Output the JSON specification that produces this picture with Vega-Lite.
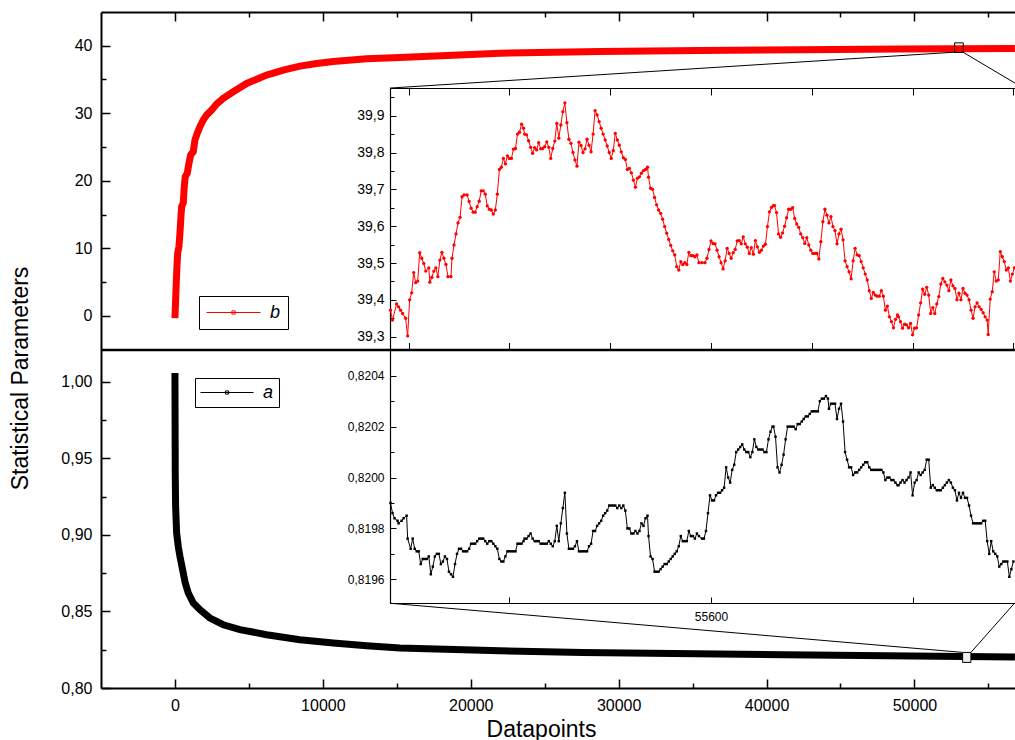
{
"$schema": "https://vega.github.io/schema/vega-lite/v6.json",
"width": 914, "height": 676,
"autosize": {"type": "none"},
"padding": {"left": 101, "top": 12, "right": 0, "bottom": 52},
"config": {
  "view": {"stroke": null},
  "font": "Liberation Sans",
  "axis": {"grid": false, "domainColor": "black", "tickColor": "black", "labelColor": "black", "titleColor": "black", "labelFont": "Liberation Sans", "titleFont": "Liberation Sans", "titleFontWeight": "normal", "labelFlush": false, "labelOverlap": false},
  "legend": {"labelFont": "Liberation Sans", "labelColor": "black"}
},
"datasets": {
  "mainB": [{"n":0,"b":-0.34},{"n":47,"b":2.37},{"n":88,"b":4.84},{"n":135,"b":7.29},{"n":183,"b":9.27},{"n":270,"b":10.25},{"n":338,"b":12.23},{"n":406,"b":14.69},{"n":453,"b":16.17},{"n":561,"b":16.67},{"n":629,"b":19.13},{"n":696,"b":20.61},{"n":832,"b":21.11},{"n":947,"b":22.59},{"n":1062,"b":23.82},{"n":1237,"b":24.3},{"n":1352,"b":26.04},{"n":1508,"b":27.03},{"n":1690,"b":28.0},{"n":1913,"b":28.99},{"n":2143,"b":29.73},{"n":2481,"b":30.47},{"n":2819,"b":31.36},{"n":3266,"b":32.2},{"n":3942,"b":33.18},{"n":4848,"b":34.42},{"n":6200,"b":35.65},{"n":7323,"b":36.39},{"n":8452,"b":36.98},{"n":9581,"b":37.38},{"n":10703,"b":37.68},{"n":12961,"b":38.06},{"n":15213,"b":38.27},{"n":21974,"b":38.9},{"n":28736,"b":39.15},{"n":35497,"b":39.3},{"n":42258,"b":39.42},{"n":49020,"b":39.52},{"n":56795,"b":39.58}],
  "mainA": [{"n":0,"a":1.0056},{"n":10,"a":0.973},{"n":20,"a":0.9403},{"n":45,"a":0.9185},{"n":113,"a":0.9012},{"n":225,"a":0.8924},{"n":338,"a":0.8859},{"n":518,"a":0.8772},{"n":699,"a":0.8685},{"n":902,"a":0.862},{"n":1240,"a":0.8555},{"n":1690,"a":0.8511},{"n":2366,"a":0.8457},{"n":3268,"a":0.8413},{"n":4395,"a":0.8381},{"n":6198,"a":0.8348},{"n":8452,"a":0.8315},{"n":10706,"a":0.8294},{"n":12960,"a":0.8276},{"n":15213,"a":0.8261},{"n":21974,"a":0.8243},{"n":27553,"a":0.8232},{"n":41244,"a":0.8217},{"n":53279,"a":0.8206},{"n":56795,"a":0.8202}],
  "boxB": [{"n":52718,"n2":53300,"b":40.43,"b2":39.0}],
  "connB": [{"n":14537,"b":33.73,"n2":52738,"b2":39.05},{"n":53279,"b":39.05,"n2":56795,"b2":34.47}],
  "boxA": [{"n":53259,"n2":53820,"a":0.82324,"a2":0.81671}],
  "connA": [{"n":14537,"a":0.85535,"n2":53259,"a2":0.82324},{"n":53820,"a":0.82324,"n2":56795,"a2":0.85568}],
  "insB": [{"n":55282,"b":39.372},{"n":55284,"b":39.345},{"n":55288,"b":39.389},{"n":55290,"b":39.381},{"n":55292,"b":39.372},{"n":55294,"b":39.363},{"n":55297,"b":39.35},{"n":55299,"b":39.302},{"n":55301,"b":39.4},{"n":55303,"b":39.419},{"n":55305,"b":39.474},{"n":55307,"b":39.447},{"n":55309,"b":39.451},{"n":55311,"b":39.528},{"n":55313,"b":39.513},{"n":55315,"b":39.499},{"n":55317,"b":39.478},{"n":55320,"b":39.487},{"n":55321,"b":39.448},{"n":55323,"b":39.461},{"n":55325,"b":39.478},{"n":55327,"b":39.487},{"n":55329,"b":39.463},{"n":55331,"b":39.508},{"n":55333,"b":39.529},{"n":55335,"b":39.513},{"n":55337,"b":39.496},{"n":55339,"b":39.463},{"n":55342,"b":39.463},{"n":55343,"b":39.513},{"n":55345,"b":39.549},{"n":55347,"b":39.579},{"n":55349,"b":39.609},{"n":55351,"b":39.624},{"n":55353,"b":39.68},{"n":55355,"b":39.685},{"n":55358,"b":39.685},{"n":55360,"b":39.667},{"n":55362,"b":39.649},{"n":55364,"b":39.638},{"n":55366,"b":39.638},{"n":55368,"b":39.653},{"n":55370,"b":39.668},{"n":55372,"b":39.696},{"n":55374,"b":39.696},{"n":55376,"b":39.687},{"n":55378,"b":39.655},{"n":55380,"b":39.646},{"n":55382,"b":39.644},{"n":55384,"b":39.633},{"n":55386,"b":39.644},{"n":55388,"b":39.687},{"n":55390,"b":39.754},{"n":55392,"b":39.76},{"n":55394,"b":39.784},{"n":55396,"b":39.769},{"n":55398,"b":39.791},{"n":55400,"b":39.784},{"n":55402,"b":39.784},{"n":55404,"b":39.809},{"n":55406,"b":39.811},{"n":55408,"b":39.85},{"n":55410,"b":39.855},{"n":55412,"b":39.877},{"n":55414,"b":39.866},{"n":55415,"b":39.85},{"n":55417,"b":39.848},{"n":55419,"b":39.832},{"n":55421,"b":39.814},{"n":55423,"b":39.798},{"n":55425,"b":39.813},{"n":55427,"b":39.807},{"n":55429,"b":39.827},{"n":55431,"b":39.81},{"n":55433,"b":39.811},{"n":55435,"b":39.816},{"n":55437,"b":39.829},{"n":55439,"b":39.814},{"n":55441,"b":39.784},{"n":55443,"b":39.811},{"n":55445,"b":39.831},{"n":55447,"b":39.879},{"n":55449,"b":39.839},{"n":55451,"b":39.875},{"n":55453,"b":39.911},{"n":55455,"b":39.935},{"n":55457,"b":39.881},{"n":55459,"b":39.836},{"n":55461,"b":39.825},{"n":55463,"b":39.8},{"n":55465,"b":39.78},{"n":55467,"b":39.763},{"n":55469,"b":39.828},{"n":55471,"b":39.819},{"n":55473,"b":39.8},{"n":55475,"b":39.81},{"n":55477,"b":39.836},{"n":55479,"b":39.82},{"n":55481,"b":39.802},{"n":55483,"b":39.85},{"n":55485,"b":39.914},{"n":55487,"b":39.902},{"n":55489,"b":39.884},{"n":55491,"b":39.866},{"n":55493,"b":39.85},{"n":55495,"b":39.834},{"n":55497,"b":39.818},{"n":55499,"b":39.8},{"n":55501,"b":39.784},{"n":55503,"b":39.805},{"n":55505,"b":39.852},{"n":55507,"b":39.834},{"n":55509,"b":39.82},{"n":55511,"b":39.802},{"n":55513,"b":39.786},{"n":55515,"b":39.781},{"n":55517,"b":39.754},{"n":55519,"b":39.757},{"n":55521,"b":39.745},{"n":55523,"b":39.725},{"n":55525,"b":39.706},{"n":55527,"b":39.73},{"n":55529,"b":39.734},{"n":55531,"b":39.744},{"n":55533,"b":39.751},{"n":55535,"b":39.754},{"n":55537,"b":39.76},{"n":55538,"b":39.733},{"n":55540,"b":39.703},{"n":55542,"b":39.7},{"n":55544,"b":39.678},{"n":55546,"b":39.658},{"n":55548,"b":39.644},{"n":55550,"b":39.635},{"n":55552,"b":39.619},{"n":55554,"b":39.599},{"n":55556,"b":39.581},{"n":55558,"b":39.564},{"n":55560,"b":39.548},{"n":55562,"b":39.533},{"n":55564,"b":39.522},{"n":55566,"b":39.49},{"n":55568,"b":39.481},{"n":55570,"b":39.504},{"n":55572,"b":39.496},{"n":55574,"b":39.501},{"n":55576,"b":39.496},{"n":55578,"b":39.529},{"n":55580,"b":39.52},{"n":55582,"b":39.52},{"n":55584,"b":39.517},{"n":55586,"b":39.522},{"n":55588,"b":39.501},{"n":55591,"b":39.501},{"n":55594,"b":39.501},{"n":55596,"b":39.513},{"n":55598,"b":39.537},{"n":55600,"b":39.56},{"n":55602,"b":39.553},{"n":55604,"b":39.552},{"n":55606,"b":39.535},{"n":55608,"b":39.517},{"n":55610,"b":39.501},{"n":55612,"b":39.484},{"n":55614,"b":39.506},{"n":55616,"b":39.54},{"n":55618,"b":39.526},{"n":55620,"b":39.513},{"n":55622,"b":39.528},{"n":55624,"b":39.537},{"n":55626,"b":39.56},{"n":55628,"b":39.561},{"n":55630,"b":39.552},{"n":55632,"b":39.571},{"n":55634,"b":39.552},{"n":55636,"b":39.543},{"n":55638,"b":39.526},{"n":55640,"b":39.542},{"n":55642,"b":39.524},{"n":55644,"b":39.561},{"n":55646,"b":39.544},{"n":55648,"b":39.529},{"n":55650,"b":39.535},{"n":55652,"b":39.546},{"n":55654,"b":39.551},{"n":55656,"b":39.599},{"n":55658,"b":39.639},{"n":55660,"b":39.651},{"n":55662,"b":39.656},{"n":55663,"b":39.656},{"n":55665,"b":39.637},{"n":55667,"b":39.579},{"n":55669,"b":39.57},{"n":55671,"b":39.582},{"n":55673,"b":39.6},{"n":55675,"b":39.623},{"n":55677,"b":39.646},{"n":55679,"b":39.646},{"n":55681,"b":39.65},{"n":55683,"b":39.621},{"n":55685,"b":39.606},{"n":55687,"b":39.597},{"n":55689,"b":39.579},{"n":55691,"b":39.569},{"n":55693,"b":39.553},{"n":55695,"b":39.569},{"n":55697,"b":39.549},{"n":55699,"b":39.535},{"n":55701,"b":39.526},{"n":55703,"b":39.526},{"n":55705,"b":39.526},{"n":55707,"b":39.511},{"n":55709,"b":39.558},{"n":55711,"b":39.612},{"n":55713,"b":39.646},{"n":55715,"b":39.63},{"n":55717,"b":39.609},{"n":55719,"b":39.626},{"n":55721,"b":39.599},{"n":55723,"b":39.588},{"n":55725,"b":39.552},{"n":55727,"b":39.579},{"n":55729,"b":39.592},{"n":55731,"b":39.563},{"n":55733,"b":39.506},{"n":55735,"b":39.49},{"n":55737,"b":39.476},{"n":55739,"b":39.457},{"n":55741,"b":39.506},{"n":55743,"b":39.54},{"n":55745,"b":39.522},{"n":55747,"b":39.52},{"n":55749,"b":39.504},{"n":55751,"b":39.487},{"n":55753,"b":39.47},{"n":55755,"b":39.454},{"n":55757,"b":39.425},{"n":55759,"b":39.404},{"n":55761,"b":39.42},{"n":55763,"b":39.413},{"n":55765,"b":39.41},{"n":55767,"b":39.41},{"n":55769,"b":39.425},{"n":55771,"b":39.41},{"n":55773,"b":39.372},{"n":55775,"b":39.383},{"n":55777,"b":39.354},{"n":55779,"b":39.341},{"n":55781,"b":39.324},{"n":55783,"b":39.347},{"n":55785,"b":39.359},{"n":55786,"b":39.354},{"n":55788,"b":39.341},{"n":55790,"b":39.323},{"n":55792,"b":39.334},{"n":55794,"b":39.332},{"n":55796,"b":39.324},{"n":55798,"b":39.336},{"n":55800,"b":39.305},{"n":55802,"b":39.323},{"n":55804,"b":39.324},{"n":55806,"b":39.359},{"n":55808,"b":39.392},{"n":55810,"b":39.429},{"n":55812,"b":39.415},{"n":55814,"b":39.434},{"n":55816,"b":39.413},{"n":55818,"b":39.363},{"n":55820,"b":39.379},{"n":55822,"b":39.363},{"n":55824,"b":39.389},{"n":55826,"b":39.409},{"n":55828,"b":39.443},{"n":55830,"b":39.458},{"n":55832,"b":39.449},{"n":55834,"b":39.44},{"n":55836,"b":39.425},{"n":55838,"b":39.454},{"n":55840,"b":39.438},{"n":55842,"b":39.431},{"n":55844,"b":39.4},{"n":55846,"b":39.418},{"n":55848,"b":39.4},{"n":55850,"b":39.431},{"n":55852,"b":39.418},{"n":55854,"b":39.413},{"n":55856,"b":39.4},{"n":55858,"b":39.372},{"n":55860,"b":39.35},{"n":55862,"b":39.381},{"n":55864,"b":39.392},{"n":55866,"b":39.381},{"n":55868,"b":39.374},{"n":55870,"b":39.365},{"n":55872,"b":39.354},{"n":55874,"b":39.345},{"n":55875,"b":39.306},{"n":55877,"b":39.402},{"n":55879,"b":39.422},{"n":55881,"b":39.476},{"n":55883,"b":39.451},{"n":55885,"b":39.454},{"n":55887,"b":39.531},{"n":55889,"b":39.517},{"n":55891,"b":39.504},{"n":55893,"b":39.481},{"n":55895,"b":39.487},{"n":55897,"b":39.451},{"n":55899,"b":39.47},{"n":55901,"b":39.487}],
  "insA": [{"n":55282,"a":0.8199},{"n":55284,"a":0.81986},{"n":55286,"a":0.81984},{"n":55289,"a":0.81983},{"n":55290,"a":0.81982},{"n":55293,"a":0.81983},{"n":55295,"a":0.81984},{"n":55298,"a":0.81985},{"n":55299,"a":0.81976},{"n":55302,"a":0.81972},{"n":55304,"a":0.81976},{"n":55306,"a":0.81972},{"n":55308,"a":0.81971},{"n":55310,"a":0.81971},{"n":55312,"a":0.81966},{"n":55314,"a":0.81968},{"n":55316,"a":0.81968},{"n":55318,"a":0.81968},{"n":55320,"a":0.81969},{"n":55322,"a":0.81962},{"n":55324,"a":0.81965},{"n":55326,"a":0.81969},{"n":55328,"a":0.8197},{"n":55330,"a":0.8197},{"n":55332,"a":0.81966},{"n":55334,"a":0.81967},{"n":55336,"a":0.81969},{"n":55338,"a":0.81968},{"n":55340,"a":0.81963},{"n":55342,"a":0.81962},{"n":55344,"a":0.81961},{"n":55346,"a":0.81966},{"n":55348,"a":0.8197},{"n":55350,"a":0.81972},{"n":55352,"a":0.81972},{"n":55354,"a":0.81971},{"n":55356,"a":0.81971},{"n":55358,"a":0.81971},{"n":55360,"a":0.81972},{"n":55362,"a":0.81974},{"n":55364,"a":0.81974},{"n":55366,"a":0.81974},{"n":55368,"a":0.81975},{"n":55370,"a":0.81976},{"n":55372,"a":0.81976},{"n":55374,"a":0.81976},{"n":55376,"a":0.81975},{"n":55378,"a":0.81974},{"n":55380,"a":0.81975},{"n":55382,"a":0.81975},{"n":55384,"a":0.81974},{"n":55386,"a":0.81973},{"n":55388,"a":0.81972},{"n":55390,"a":0.81968},{"n":55392,"a":0.81967},{"n":55394,"a":0.81967},{"n":55396,"a":0.81969},{"n":55398,"a":0.81971},{"n":55400,"a":0.81971},{"n":55402,"a":0.81971},{"n":55404,"a":0.81971},{"n":55406,"a":0.81971},{"n":55408,"a":0.81974},{"n":55410,"a":0.81974},{"n":55412,"a":0.81974},{"n":55414,"a":0.81975},{"n":55415,"a":0.81976},{"n":55417,"a":0.81976},{"n":55419,"a":0.81977},{"n":55421,"a":0.81978},{"n":55423,"a":0.81976},{"n":55425,"a":0.81975},{"n":55427,"a":0.81975},{"n":55429,"a":0.81975},{"n":55431,"a":0.81974},{"n":55433,"a":0.81974},{"n":55435,"a":0.81974},{"n":55437,"a":0.81974},{"n":55439,"a":0.81975},{"n":55441,"a":0.81974},{"n":55443,"a":0.81973},{"n":55445,"a":0.81975},{"n":55447,"a":0.81981},{"n":55449,"a":0.81975},{"n":55451,"a":0.81982},{"n":55453,"a":0.81988},{"n":55455,"a":0.81994},{"n":55457,"a":0.81978},{"n":55459,"a":0.81972},{"n":55461,"a":0.81972},{"n":55463,"a":0.81972},{"n":55465,"a":0.81973},{"n":55467,"a":0.81975},{"n":55469,"a":0.81971},{"n":55471,"a":0.81971},{"n":55473,"a":0.81971},{"n":55475,"a":0.81971},{"n":55477,"a":0.81971},{"n":55479,"a":0.81973},{"n":55481,"a":0.81974},{"n":55483,"a":0.81979},{"n":55485,"a":0.81979},{"n":55487,"a":0.81981},{"n":55489,"a":0.81982},{"n":55491,"a":0.81983},{"n":55493,"a":0.81985},{"n":55495,"a":0.81986},{"n":55497,"a":0.81987},{"n":55499,"a":0.81989},{"n":55501,"a":0.81989},{"n":55503,"a":0.81989},{"n":55505,"a":0.81989},{"n":55507,"a":0.81988},{"n":55509,"a":0.81989},{"n":55511,"a":0.81988},{"n":55513,"a":0.81989},{"n":55515,"a":0.81987},{"n":55517,"a":0.8198},{"n":55519,"a":0.8198},{"n":55521,"a":0.81978},{"n":55523,"a":0.81978},{"n":55525,"a":0.81979},{"n":55527,"a":0.81978},{"n":55529,"a":0.81979},{"n":55531,"a":0.81982},{"n":55533,"a":0.81981},{"n":55535,"a":0.81984},{"n":55537,"a":0.81985},{"n":55538,"a":0.81977},{"n":55540,"a":0.81969},{"n":55542,"a":0.81968},{"n":55544,"a":0.81963},{"n":55546,"a":0.81963},{"n":55548,"a":0.81963},{"n":55550,"a":0.81964},{"n":55552,"a":0.81965},{"n":55554,"a":0.81966},{"n":55556,"a":0.81966},{"n":55558,"a":0.81967},{"n":55560,"a":0.81968},{"n":55562,"a":0.81969},{"n":55564,"a":0.8197},{"n":55566,"a":0.81971},{"n":55568,"a":0.81973},{"n":55570,"a":0.81977},{"n":55572,"a":0.81975},{"n":55574,"a":0.81975},{"n":55576,"a":0.81975},{"n":55578,"a":0.81979},{"n":55580,"a":0.81977},{"n":55582,"a":0.81977},{"n":55584,"a":0.81976},{"n":55586,"a":0.81978},{"n":55588,"a":0.81977},{"n":55591,"a":0.81976},{"n":55593,"a":0.81976},{"n":55595,"a":0.81979},{"n":55597,"a":0.81986},{"n":55599,"a":0.81993},{"n":55601,"a":0.81991},{"n":55603,"a":0.81991},{"n":55605,"a":0.81993},{"n":55607,"a":0.81994},{"n":55609,"a":0.81994},{"n":55611,"a":0.81995},{"n":55613,"a":0.81996},{"n":55615,"a":0.82004},{"n":55617,"a":0.82},{"n":55619,"a":0.81998},{"n":55621,"a":0.82003},{"n":55623,"a":0.82005},{"n":55625,"a":0.8201},{"n":55627,"a":0.82011},{"n":55629,"a":0.82012},{"n":55631,"a":0.82013},{"n":55633,"a":0.82011},{"n":55635,"a":0.8201},{"n":55637,"a":0.8201},{"n":55639,"a":0.82008},{"n":55641,"a":0.8201},{"n":55643,"a":0.82015},{"n":55645,"a":0.82012},{"n":55647,"a":0.82011},{"n":55649,"a":0.82011},{"n":55651,"a":0.82011},{"n":55653,"a":0.8201},{"n":55655,"a":0.8201},{"n":55657,"a":0.82015},{"n":55659,"a":0.82018},{"n":55661,"a":0.8202},{"n":55662,"a":0.8202},{"n":55664,"a":0.82016},{"n":55666,"a":0.82004},{"n":55668,"a":0.82002},{"n":55670,"a":0.82005},{"n":55672,"a":0.82009},{"n":55674,"a":0.82015},{"n":55676,"a":0.8202},{"n":55678,"a":0.8202},{"n":55680,"a":0.8202},{"n":55682,"a":0.8202},{"n":55684,"a":0.82019},{"n":55686,"a":0.82021},{"n":55688,"a":0.82021},{"n":55690,"a":0.82022},{"n":55692,"a":0.82023},{"n":55694,"a":0.82024},{"n":55696,"a":0.82024},{"n":55698,"a":0.82025},{"n":55700,"a":0.82026},{"n":55702,"a":0.82026},{"n":55704,"a":0.82026},{"n":55706,"a":0.82026},{"n":55708,"a":0.8203},{"n":55710,"a":0.82031},{"n":55712,"a":0.82031},{"n":55714,"a":0.82032},{"n":55716,"a":0.82031},{"n":55717,"a":0.82027},{"n":55719,"a":0.82029},{"n":55721,"a":0.82029},{"n":55723,"a":0.82029},{"n":55725,"a":0.82023},{"n":55727,"a":0.82027},{"n":55729,"a":0.82029},{"n":55731,"a":0.82022},{"n":55733,"a":0.8201},{"n":55735,"a":0.82007},{"n":55737,"a":0.82004},{"n":55739,"a":0.82004},{"n":55741,"a":0.82001},{"n":55743,"a":0.82002},{"n":55745,"a":0.82002},{"n":55747,"a":0.82003},{"n":55749,"a":0.82004},{"n":55751,"a":0.82005},{"n":55753,"a":0.82006},{"n":55755,"a":0.82006},{"n":55757,"a":0.82004},{"n":55759,"a":0.82003},{"n":55761,"a":0.82003},{"n":55763,"a":0.82003},{"n":55765,"a":0.82003},{"n":55767,"a":0.82003},{"n":55769,"a":0.82003},{"n":55771,"a":0.82002},{"n":55773,"a":0.81999},{"n":55775,"a":0.82},{"n":55777,"a":0.82},{"n":55779,"a":0.81999},{"n":55781,"a":0.81999},{"n":55783,"a":0.81998},{"n":55785,"a":0.81997},{"n":55786,"a":0.81997},{"n":55788,"a":0.81998},{"n":55790,"a":0.81999},{"n":55792,"a":0.81998},{"n":55794,"a":0.81999},{"n":55796,"a":0.82},{"n":55798,"a":0.82002},{"n":55800,"a":0.81993},{"n":55802,"a":0.81998},{"n":55804,"a":0.81999},{"n":55806,"a":0.82002},{"n":55808,"a":0.82001},{"n":55810,"a":0.82002},{"n":55812,"a":0.82003},{"n":55814,"a":0.82007},{"n":55816,"a":0.82007},{"n":55818,"a":0.81996},{"n":55820,"a":0.81997},{"n":55822,"a":0.81996},{"n":55824,"a":0.81995},{"n":55826,"a":0.81995},{"n":55828,"a":0.81995},{"n":55830,"a":0.81996},{"n":55832,"a":0.81997},{"n":55834,"a":0.81998},{"n":55836,"a":0.81999},{"n":55838,"a":0.81998},{"n":55840,"a":0.81996},{"n":55842,"a":0.81995},{"n":55844,"a":0.81991},{"n":55846,"a":0.81994},{"n":55848,"a":0.81992},{"n":55850,"a":0.81994},{"n":55852,"a":0.81992},{"n":55854,"a":0.81992},{"n":55856,"a":0.81989},{"n":55858,"a":0.81985},{"n":55860,"a":0.81982},{"n":55862,"a":0.81982},{"n":55864,"a":0.81982},{"n":55866,"a":0.81982},{"n":55868,"a":0.81982},{"n":55870,"a":0.81983},{"n":55872,"a":0.81983},{"n":55874,"a":0.81975},{"n":55876,"a":0.8197},{"n":55878,"a":0.81975},{"n":55880,"a":0.81971},{"n":55882,"a":0.8197},{"n":55884,"a":0.81969},{"n":55886,"a":0.81965},{"n":55888,"a":0.81966},{"n":55890,"a":0.81967},{"n":55892,"a":0.81967},{"n":55894,"a":0.81967},{"n":55896,"a":0.81961},{"n":55898,"a":0.81964},{"n":55900,"a":0.81967}]
},
"resolve": {"scale": {"x": "independent", "y": "independent", "color": "independent"}, "axis": {"x": "independent", "y": "independent"}, "legend": {"color": "independent"}},
"layer": [
  {"data": {"name": "mainB"}, "mark": {"type": "line", "strokeWidth": 7},
   "encoding": {
     "x": {"field": "n", "type": "quantitative", "scale": {"domain": [-5000, 56800], "range": [0, 914], "nice": false, "zero": false},
           "axis": {"orient": "top", "values": [0,10000,20000,30000,40000,50000], "labels": false, "tickSize": -9, "tickWidth": 1.5, "domainWidth": 2, "title": null}},
     "y": {"field": "b", "type": "quantitative", "scale": {"domain": [-5, 45], "range": [337.5, 0], "nice": false, "zero": false},
           "axis": {"orient": "left", "values": [0,10,20,30,40], "format": "d", "tickSize": -9, "tickWidth": 1.5, "domainWidth": 2, "labelPadding": 18, "labelFontSize": 16,
                    "title": "Statistical Parameters", "titleFontSize": 23, "titleX": -74, "titleY": 366, "titleAngle": -90, "titleAlign": "center", "titleBaseline": "alphabetic"}},
     "color": {"datum": "b", "scale": {"domain": ["b"], "range": ["#ff0000"]},
               "legend": {"orient": "none", "legendX": 98, "legendY": 284, "title": null, "strokeColor": "black", "fillColor": "white", "padding": 7,
                          "symbolType": "M-1,0H1M-0.06,-0.06H0.06V0.06H-0.06Z", "symbolSize": 2916, "symbolStrokeWidth": 1, "clipHeight": 19,
                          "labelFontSize": 18, "labelFontStyle": "italic", "labelOffset": 9, "symbolOffset": 0,
                          "encoding": {"symbols": {"update": {"fill": {"value": "#ff0000"}, "stroke": {"value": "#ff0000"}, "strokeWidth": {"value": 1}, "opacity": {"value": 1}}}}}}
   }},
  {"data": {"name": "mainB"}, "mark": {"type": "point", "opacity": 0},
   "encoding": {
     "x": {"field": "n", "type": "quantitative", "scale": {"domain": [-5000, 56800], "range": [0, 914], "nice": false, "zero": false},
           "axis": {"orient": "top", "values": [5000,15000,25000,35000,45000,55000], "labels": false, "domain": false, "tickSize": -5, "tickWidth": 1.5, "title": null}},
     "y": {"field": "b", "type": "quantitative", "scale": {"domain": [-5, 45], "range": [337.5, 0], "nice": false, "zero": false},
           "axis": {"orient": "left", "values": [5,15,25,35], "labels": false, "domain": false, "tickSize": -5, "tickWidth": 1.5, "title": null}}
   }},
  {"data": {"name": "mainB"}, "mark": {"type": "point", "opacity": 0},
   "encoding": {
     "x": {"field": "n", "type": "quantitative", "scale": {"domain": [-5000, 56800], "range": [0, 914], "nice": false, "zero": false},
           "axis": {"orient": "bottom", "offset": -338.5, "ticks": false, "labels": false, "domainWidth": 2.5, "title": null}},
     "y": {"field": "b", "type": "quantitative", "scale": {"domain": [-5, 45], "range": [337.5, 0], "nice": false, "zero": false}, "axis": null}
   }},
  {"data": {"name": "connB"}, "mark": {"type": "rule", "color": "black", "strokeWidth": 1},
   "encoding": {
     "x": {"field": "n", "type": "quantitative", "scale": {"domain": [-5000, 56800], "range": [0, 914], "nice": false, "zero": false}, "axis": null},
     "x2": {"field": "n2"},
     "y": {"field": "b", "type": "quantitative", "scale": {"domain": [-5, 45], "range": [337.5, 0], "nice": false, "zero": false}, "axis": null},
     "y2": {"field": "b2"}
   }},
  {"data": {"name": "boxB"}, "mark": {"type": "rect", "fill": "transparent", "stroke": "black", "strokeWidth": 1},
   "encoding": {
     "x": {"field": "n", "type": "quantitative", "scale": {"domain": [-5000, 56800], "range": [0, 914], "nice": false, "zero": false}, "axis": null},
     "x2": {"field": "n2"},
     "y": {"field": "b", "type": "quantitative", "scale": {"domain": [-5, 45], "range": [337.5, 0], "nice": false, "zero": false}, "axis": null},
     "y2": {"field": "b2"}
   }},
  {"data": {"name": "mainA"}, "mark": {"type": "line", "strokeWidth": 7},
   "encoding": {
     "x": {"field": "n", "type": "quantitative", "scale": {"domain": [-5000, 56800], "range": [0, 914], "nice": false, "zero": false},
           "axis": {"orient": "bottom", "values": [0,10000,20000,30000,40000,50000], "format": "d", "tickSize": -9, "tickWidth": 1.5, "domainWidth": 2, "labelPadding": 18, "labelFontSize": 16,
                    "title": "Datapoints", "titleFontSize": 23, "titleX": 440, "titleY": 48, "titleAlign": "center", "titleBaseline": "alphabetic"}},
     "y": {"field": "a", "type": "quantitative", "scale": {"domain": [0.8, 1.021], "range": [676, 337.5], "nice": false, "zero": false},
           "axis": {"orient": "left", "values": [0.8,0.85,0.9,0.95,1.0], "labelExpr": "replace(format(datum.value, '.2f'), '.', ',')", "tickSize": -9, "tickWidth": 1.5, "domainWidth": 2, "labelPadding": 18, "labelFontSize": 16, "title": null}},
     "color": {"datum": "a", "scale": {"domain": ["a"], "range": ["#000000"]},
               "legend": {"orient": "none", "legendX": 94, "legendY": 366, "title": null, "strokeColor": "black", "fillColor": "white", "padding": 5,
                          "symbolType": "M-1,0H1M-0.06,-0.06H0.06V0.06H-0.06Z", "symbolSize": 2809, "symbolStrokeWidth": 1, "clipHeight": 19,
                          "labelFontSize": 18, "labelFontStyle": "italic", "labelOffset": 9, "symbolOffset": 0,
                          "encoding": {"symbols": {"update": {"fill": {"value": "#000000"}, "stroke": {"value": "#444444"}, "strokeWidth": {"value": 1}, "opacity": {"value": 1}}}}}}
   }},
  {"data": {"name": "mainA"}, "mark": {"type": "point", "opacity": 0},
   "encoding": {
     "x": {"field": "n", "type": "quantitative", "scale": {"domain": [-5000, 56800], "range": [0, 914], "nice": false, "zero": false},
           "axis": {"orient": "bottom", "values": [5000,15000,25000,35000,45000,55000], "labels": false, "domain": false, "tickSize": -5, "tickWidth": 1.5, "title": null}},
     "y": {"field": "a", "type": "quantitative", "scale": {"domain": [0.8, 1.021], "range": [676, 337.5], "nice": false, "zero": false},
           "axis": {"orient": "left", "values": [0.825,0.875,0.925,0.975], "labels": false, "domain": false, "tickSize": -5, "tickWidth": 1.5, "title": null}}
   }},
  {"data": {"name": "connA"}, "mark": {"type": "rule", "color": "black", "strokeWidth": 1},
   "encoding": {
     "x": {"field": "n", "type": "quantitative", "scale": {"domain": [-5000, 56800], "range": [0, 914], "nice": false, "zero": false}, "axis": null},
     "x2": {"field": "n2"},
     "y": {"field": "a", "type": "quantitative", "scale": {"domain": [0.8, 1.021], "range": [676, 337.5], "nice": false, "zero": false}, "axis": null},
     "y2": {"field": "a2"}
   }},
  {"data": {"name": "boxA"}, "mark": {"type": "rect", "fill": "#eeeeee", "stroke": "black", "strokeWidth": 1},
   "encoding": {
     "x": {"field": "n", "type": "quantitative", "scale": {"domain": [-5000, 56800], "range": [0, 914], "nice": false, "zero": false}, "axis": null},
     "x2": {"field": "n2"},
     "y": {"field": "a", "type": "quantitative", "scale": {"domain": [0.8, 1.021], "range": [676, 337.5], "nice": false, "zero": false}, "axis": null},
     "y2": {"field": "a2"}
   }},
  {"data": {"name": "insB"}, "mark": {"type": "line", "color": "#ff0000", "strokeWidth": 1, "point": {"filled": true, "size": 11, "color": "#ff0000"}},
   "encoding": {
     "x": {"field": "n", "type": "quantitative", "scale": {"domain": [55281.5, 55901.6], "range": [289, 914], "nice": false, "zero": false},
           "axis": {"orient": "top", "offset": -76, "values": [55300,55400,55500,55600,55700,55800,55900], "labels": false, "tickSize": -7, "tickWidth": 1, "domainWidth": 1.2, "title": null}},
     "y": {"field": "b", "type": "quantitative", "scale": {"domain": [39.2652, 39.9752], "range": [337.5, 76], "nice": false, "zero": false},
           "axis": {"orient": "left", "offset": -289, "values": [39.3,39.4,39.5,39.6,39.7,39.8,39.9], "labelExpr": "replace(format(datum.value, '.1f'), '.', ',')", "tickSize": -6, "tickWidth": 1, "domainWidth": 1.2, "labelPadding": 12, "labelFontSize": 14, "title": null}}
   }},
  {"data": {"name": "insB"}, "mark": {"type": "point", "opacity": 0},
   "encoding": {
     "x": {"field": "n", "type": "quantitative", "scale": {"domain": [55281.5, 55901.6], "range": [289, 914], "nice": false, "zero": false},
           "axis": {"orient": "bottom", "offset": -338.5, "values": [55300,55400,55500,55600,55700,55800,55900], "labels": false, "domain": false, "tickSize": -7, "tickWidth": 1, "title": null}},
     "y": {"field": "b", "type": "quantitative", "scale": {"domain": [39.2652, 39.9752], "range": [337.5, 76], "nice": false, "zero": false},
           "axis": {"orient": "left", "offset": -289, "values": [39.35,39.45,39.55,39.65,39.75,39.85,39.95], "labels": false, "domain": false, "tickSize": -4, "tickWidth": 1, "title": null}}
   }},
  {"data": {"name": "insA"}, "mark": {"type": "line", "color": "#000000", "strokeWidth": 1, "point": {"filled": true, "size": 6, "shape": "square", "color": "#000000"}},
   "encoding": {
     "x": {"field": "n", "type": "quantitative", "scale": {"domain": [55281.5, 55901.6], "range": [289, 914], "nice": false, "zero": false},
           "axis": {"orient": "bottom", "offset": -85, "values": [55400,55600,55800], "labelExpr": "datum.value == 55600 ? '55600' : ''", "tickSize": -6, "tickWidth": 1, "domainWidth": 1.2, "labelPadding": 14, "labelFontSize": 12, "title": null}},
     "y": {"field": "a", "type": "quantitative", "scale": {"domain": [0.819507, 0.820503], "range": [591, 337.5], "nice": false, "zero": false},
           "axis": {"orient": "left", "offset": -289, "values": [0.8196,0.8198,0.82,0.8202,0.8204], "labelExpr": "replace(format(datum.value, '.4f'), '.', ',')", "tickSize": -6, "tickWidth": 1, "domainWidth": 1.2, "labelPadding": 12, "labelFontSize": 12, "title": null}}
   }},
  {"data": {"name": "insA"}, "mark": {"type": "point", "opacity": 0},
   "encoding": {
     "x": {"field": "n", "type": "quantitative", "scale": {"domain": [55281.5, 55901.6], "range": [289, 914], "nice": false, "zero": false}, "axis": null},
     "y": {"field": "a", "type": "quantitative", "scale": {"domain": [0.819507, 0.820503], "range": [591, 337.5], "nice": false, "zero": false},
           "axis": {"orient": "left", "offset": -289, "values": [0.8197,0.8199,0.8201,0.8203], "labels": false, "domain": false, "tickSize": -4, "tickWidth": 1, "title": null}}
   }}
]
}
